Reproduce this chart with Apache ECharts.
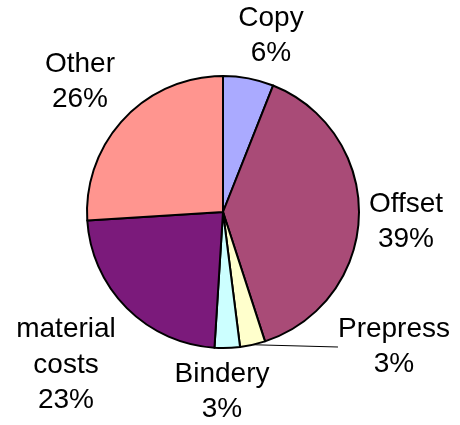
<!DOCTYPE html>
<html>
<head>
<meta charset="utf-8">
<script src="https://cdn.jsdelivr.net/npm/echarts@6/dist/echarts.min.js"></script>
<style>
  html, body { margin: 0; padding: 0; background: #ffffff; }
  #chart { width: 460px; height: 425px; }
</style>
</head>
<body>
<div id="chart"></div>
<script>
// Cost breakdown, percent of total
var categories = ['Copy', 'Offset', 'Prepress', 'Bindery', 'material costs', 'Other'];
var shares = [6, 39, 3, 3, 23, 26];
var sliceColors = ['#aaaaff', '#a94b77', '#ffffcc', '#ccffff', '#7b1a7b', '#ff958f'];

// Where each two- or three-line label block is centred
var labelSpots = {
  'Copy': [271, 36],
  'Offset': [406, 222],
  'Prepress': [394, 347],
  'Bindery': [222, 392],
  'material costs': [66, 365],
  'Other': [80, 82]
};

var chart = echarts.init(document.getElementById('chart'), null, { renderer: 'canvas' });

var pieData = categories.map(function (name, i) {
  return {
    name: name,
    value: shares[i],
    itemStyle: { color: sliceColors[i] },
    labelLine: { show: name === 'Prepress' }
  };
});

chart.setOption({
  animation: false,
  series: [{
    type: 'pie',
    center: [223, 212],
    radius: 136,
    startAngle: 90,
    clockwise: true,
    avoidLabelOverlap: false,
    itemStyle: { borderColor: '#000000', borderWidth: 2 },
    label: {
      show: true,
      color: '#000000',
      fontFamily: 'Liberation Sans, Arial, sans-serif',
      fontSize: 28,
      lineHeight: 35.5,
      align: 'center',
      formatter: function (p) {
        return p.name.replace(' ', '\n') + '\n' + p.value + '%';
      }
    },
    labelLine: {
      show: false,
      smooth: false,
      length: 0,
      length2: 0,
      lineStyle: { color: '#000000', width: 1 }
    },
    labelLayout: function (params) {
      var spot = labelSpots[categories[params.dataIndex]];
      return {
        x: spot[0],
        y: spot[1],
        align: 'center',
        verticalAlign: 'middle'
      };
    },
    emphasis: { disabled: true },
    data: pieData
  }]
});
</script>
</body>
</html>
